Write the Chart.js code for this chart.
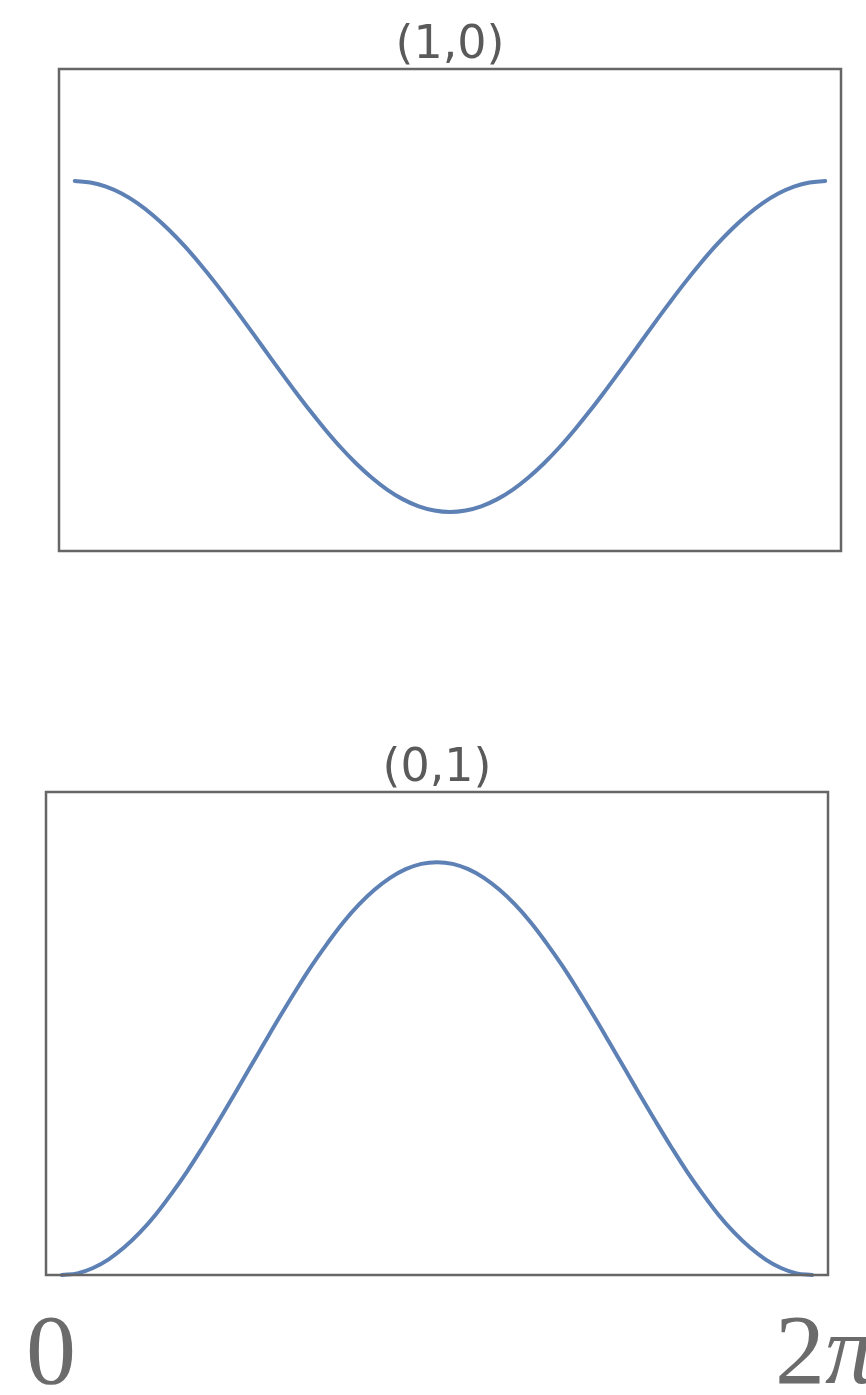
<!DOCTYPE html>
<html>
<head>
<meta charset="utf-8">
<script src="https://cdn.jsdelivr.net/npm/chart.js@4.4.1/dist/chart.umd.min.js"></script>
<style>
  html, body { margin: 0; padding: 0; background: #fff; width: 866px; height: 1395px; overflow: hidden; position: relative; }
  .panel { position: absolute; left: 0; width: 866px; }
  .lbl { position: absolute; font-family: "Liberation Serif", "DejaVu Serif", serif; font-size: 100px; line-height: 1; color: #6b6b6b; white-space: nowrap; }
</style>
</head>
<body>
<div class="panel" id="p1" style="top:23px;height:577px;"><canvas id="c1"></canvas></div>
<div class="panel" id="p2" style="top:746px;height:579px;"><canvas id="c2"></canvas></div>
<div class="lbl" id="l0" style="left:26px;top:1300px;">0</div>
<div class="lbl" id="l1" style="left:775px;top:1300px;">2<i>π</i></div>
<script>
// x positions as fraction of one period (0 .. 2π), step 1/48
const xFrac = [0, 1/48, 2/48, 3/48, 4/48, 5/48, 6/48, 7/48, 8/48, 9/48, 10/48, 11/48, 12/48,
               13/48, 14/48, 15/48, 16/48, 17/48, 18/48, 19/48, 20/48, 21/48, 22/48, 23/48, 24/48,
               25/48, 26/48, 27/48, 28/48, 29/48, 30/48, 31/48, 32/48, 33/48, 34/48, 35/48, 36/48,
               37/48, 38/48, 39/48, 40/48, 41/48, 42/48, 43/48, 44/48, 45/48, 46/48, 47/48, 1];
const topValues = [1, 0.991, 0.966, 0.924, 0.866, 0.793, 0.707, 0.609, 0.5, 0.383, 0.259, 0.131, 0,
                   -0.131, -0.259, -0.383, -0.5, -0.609, -0.707, -0.793, -0.866, -0.924, -0.966, -0.991, -1,
                   -0.991, -0.966, -0.924, -0.866, -0.793, -0.707, -0.609, -0.5, -0.383, -0.259, -0.131, 0,
                   0.131, 0.259, 0.383, 0.5, 0.609, 0.707, 0.793, 0.866, 0.924, 0.966, 0.991, 1];
const bottomValues = [0, 0.004, 0.017, 0.038, 0.067, 0.103, 0.146, 0.196, 0.25, 0.309, 0.371, 0.435, 0.5,
                      0.565, 0.629, 0.691, 0.75, 0.804, 0.854, 0.897, 0.933, 0.962, 0.983, 0.996, 1,
                      0.996, 0.983, 0.962, 0.933, 0.897, 0.854, 0.804, 0.75, 0.691, 0.629, 0.565, 0.5,
                      0.435, 0.371, 0.309, 0.25, 0.196, 0.146, 0.103, 0.067, 0.038, 0.017, 0.004, 0];
const titles = ["(1,0)", "(0,1)"];
const endLabels = ["0", "2π"];

const lineColor = "#5e81b5";
const frameColor = "#666666";

const framePlugin = {
  id: "frame",
  afterDraw(chart) {
    const a = chart.chartArea, ctx = chart.ctx;
    ctx.save();
    ctx.strokeStyle = frameColor;
    ctx.lineWidth = 2.5;
    ctx.strokeRect(a.left, a.top, a.right - a.left, a.bottom - a.top);
    ctx.restore();
  }
};

function makeChart(id, values, title, pad, yMin, yMax) {
  const pts = xFrac.map((x, i) => ({ x: x, y: values[i] }));
  return new Chart(document.getElementById(id), {
    type: "line",
    data: { datasets: [{ data: pts, borderColor: lineColor, borderWidth: 4, pointRadius: 0,
                         tension: 0.4, fill: false, clip: false, borderCapStyle: "round" }] },
    options: {
      responsive: true, maintainAspectRatio: false, animation: false,
      layout: { padding: pad },
      plugins: {
        legend: { display: false }, tooltip: { enabled: false },
        title: { display: true, text: title, color: "#5a5a5a",
                 font: { family: "DejaVu Sans", size: 46, weight: "normal", lineHeight: 1 },
                 padding: { top: 0, bottom: 0 } }
      },
      scales: {
        x: { type: "linear", display: false, min: -0.021, max: 1.021 },
        y: { type: "linear", display: false, min: yMin, max: yMax }
      }
    },
    plugins: [framePlugin]
  });
}

makeChart("c1", topValues, titles[0], { left: 59, right: 25, top: 0, bottom: 49 }, -1.236, 1.677);
makeChart("c2", bottomValues, titles[1], { left: 46, right: 38, top: 0, bottom: 50 }, 0, 1.17);
</script>
</body>
</html>
